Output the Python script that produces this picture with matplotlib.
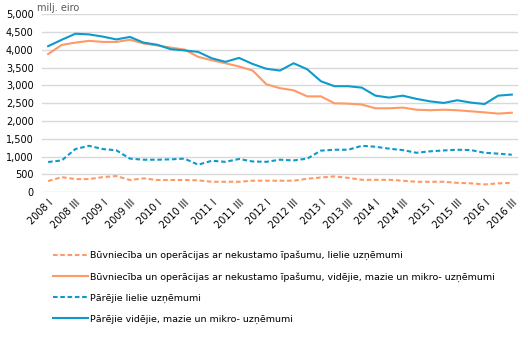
import matplotlib
matplotlib.use("Agg")
import matplotlib.pyplot as plt

# quarters 2008 I .. 2016 III
years = list(range(2008, 2017))
roman = ["I", "II", "III", "IV"]
quarters = [f"{y} {q}" for y in years for q in roman][:35]

buv_lielie = [310, 420, 365, 365, 420, 450, 340, 385, 340, 340, 340, 330, 290, 290, 290, 320,
              320, 320, 320, 375, 410, 440, 400, 345, 345, 345, 320, 290, 290, 290, 260, 245,
              215, 245, 260]
buv_mvm = [3880, 4135, 4200, 4250, 4220, 4220, 4280, 4175, 4120, 4060, 4005, 3800, 3705, 3620,
           3530, 3415, 3030, 2920, 2860, 2690, 2690, 2495, 2485, 2460, 2355, 2355, 2375, 2315,
           2300, 2315, 2300, 2270, 2240, 2205, 2230]
citi_lielie = [845, 890, 1210, 1300, 1210, 1175, 940, 910, 910, 920, 940, 770, 880, 850, 930,
               860, 850, 910, 890, 940, 1165, 1190, 1190, 1300, 1275, 1220, 1180, 1105, 1145,
               1170, 1190, 1180, 1105, 1080, 1050]
citi_mvm = [4100, 4280, 4450, 4430, 4370, 4290, 4360, 4200, 4140, 4015, 3980, 3940, 3760, 3660,
            3770, 3600, 3465, 3415, 3620, 3450, 3115, 2975, 2975, 2935, 2710, 2655, 2710, 2620,
            2550, 2505, 2580, 2515, 2475, 2710, 2740]

labels = [
    "Būvniecība un operācijas ar nekustamo īpašumu, lielie uzņēmumi",
    "Būvniecība un operācijas ar nekustamo īpašumu, vidējie, mazie un mikro- uzņēmumi",
    "Pārējie lielie uzņēmumi",
    "Pārējie vidējie, mazie un mikro- uzņēmumi",
]

orange = "#ff9966"
blue = "#0e9acb"

plt.rcParams["font.family"] = "DejaVu Sans"
fig = plt.figure(figsize=(5.28, 3.37), dpi=100)
ax = fig.add_axes([0.0795, 0.430, 0.9015, 0.528])

x = list(range(len(quarters)))
dash = (0, (2.2, 1.3))
ax.plot(x, buv_lielie, color=orange, lw=1.5, linestyle=dash, label=labels[0])
ax.plot(x, buv_mvm, color=orange, lw=1.5, label=labels[1])
ax.plot(x, citi_lielie, color=blue, lw=1.5, linestyle=dash, label=labels[2])
ax.plot(x, citi_mvm, color=blue, lw=1.5, label=labels[3])

ax.set_xlim(-0.45, len(quarters) - 1 + 0.45)
ax.set_ylim(0, 5000)
ax.set_yticks(range(0, 5001, 500))
ax.set_yticklabels([f"{v:,}" for v in range(0, 5001, 500)], fontsize=7)
ax.set_xticks(x[::2])
ax.set_xticklabels(quarters[::2], rotation=45, ha="right", va="top",
                   rotation_mode="anchor", fontsize=7)
ax.tick_params(axis="y", length=0, pad=6)
ax.tick_params(axis="x", length=0, pad=4)
ax.grid(axis="y", color="#d9d9d9", lw=1)
ax.set_axisbelow(True)
for s in ax.spines.values():
    s.set_visible(False)

fig.text(0.071, 0.962, "milj. eiro", fontsize=7, color="#595959", va="bottom")

fig.legend(loc="upper left", bbox_to_anchor=(0.092, 0.27), frameon=False, fontsize=6.8,
           handlelength=3.7, handletextpad=0.2, labelspacing=1.25, borderpad=0)

fig.savefig("out.png", dpi=100)
